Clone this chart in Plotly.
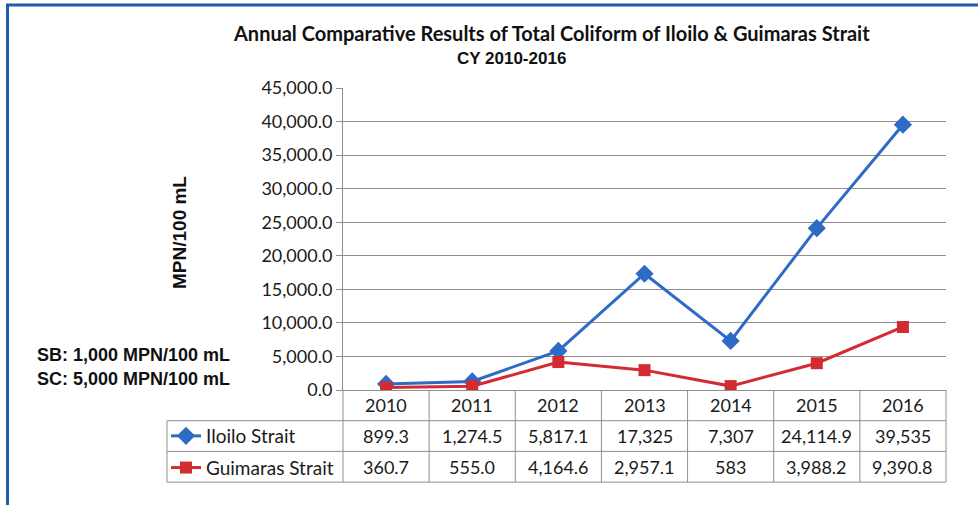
import plotly.graph_objects as go

# data
years = [2010, 2011, 2012, 2013, 2014, 2015, 2016]
iloilo = [899.3, 1274.5, 5817.1, 17325, 7307, 24114.9, 39535]
guimaras = [360.7, 555.0, 4164.6, 2957.1, 583, 3988.2, 9390.8]
iloilo_labels = ["899.3", "1,274.5", "5,817.1", "17,325", "7,307", "24,114.9", "39,535"]
guimaras_labels = ["360.7", "555.0", "4,164.6", "2,957.1", "583", "3,988.2", "9,390.8"]

W, H = 978, 505
BLUE = '#2E6BC6'
RED = '#D42A32'
GRID = '#8f8f8f'
FONT = 'Lato, Calibri, sans-serif'
ARIAL = 'Liberation Sans, Arial, sans-serif'


def px(x):
    return x / W


def py(y):
    return 1 - y / H


# pixel geometry of the plot / table
left, right, top, bottom = 343, 946, 88, 390
unit = (right - left) / len(years)
tab_left, row_h = 167, 30.7

fig = go.Figure()
fig.add_trace(go.Scatter(
    x=years, y=iloilo, name='Iloilo Strait', mode='lines+markers', legendgroup='a',
    line=dict(color=BLUE, width=3), marker=dict(symbol='diamond', size=14, color=BLUE)
))
fig.add_trace(go.Scatter(
    x=years, y=guimaras, name='Guimaras Strait', mode='lines+markers', legendgroup='b',
    line=dict(color=RED, width=3), marker=dict(symbol='square', size=12, color=RED)
))

x0 = years[0] - 0.5
x1 = years[-1] + 0.5
# table subplot shares the category scale, extended to the left for the label column
t_dom_l, t_dom_r = 164, 948
t_rng = [x0 - (left - t_dom_l) / unit, x1 + (t_dom_r - right) / unit]
t_dom_t, t_dom_b = 389, 485
y_rng = [(t_dom_b - bottom) / row_h, (t_dom_t - bottom) / row_h]
tab_x = x0 - (left - tab_left) / unit

shapes = []
line = dict(color=GRID, width=1)
for r in (1, 2, 3):
    shapes.append(dict(type='line', xref='x2', yref='y2', x0=tab_x, x1=x1, y0=r, y1=r, line=line))
for k in range(len(years) + 1):
    shapes.append(dict(type='line', xref='x2', yref='y2', x0=x0 + k, x1=x0 + k, y0=0, y1=3, line=line))
shapes.append(dict(type='line', xref='x2', yref='y2', x0=tab_x, x1=tab_x, y0=1, y1=3, line=line))
# blue frame
shapes.append(dict(type='line', xref='paper', yref='paper', x0=px(7.5), x1=px(7.5), y0=0, y1=py(4),
                   line=dict(color='#1F5CAF', width=3)))
shapes.append(dict(type='line', xref='paper', yref='paper', x0=px(6), x1=1, y0=py(5), y1=py(5),
                   line=dict(color='#1F5CAF', width=3)))

ann = []
cell_font = dict(family=FONT, size=18, color='#1a1a1a')
for i, yr in enumerate(years):
    for row, txt in ((0.5, str(yr)), (1.5, iloilo_labels[i]), (2.5, guimaras_labels[i])):
        ann.append(dict(x=yr, y=row, xref='x2', yref='y2', text=txt, showarrow=False,
                        xanchor='center', yanchor='middle', font=cell_font))


def label(x, y, text, font, **kw):
    d = dict(x=px(x), y=py(y), xref='paper', yref='paper', text=text, showarrow=False,
             xanchor='center', yanchor='middle', font=font)
    d.update(kw)
    ann.append(d)


label(551, 33, '<b>Annual Comparative Results of Total Coliform of Iloilo & Guimaras Strait</b>',
      dict(family=FONT, size=20, color='#111'))
label(511, 59, '<b>CY 2010-2016</b>', dict(family=ARIAL, size=17, color='#111'))
label(180, 233, '<b>MPN/100 mL</b>', dict(family=ARIAL, size=19, color='#111'), textangle=-90)
label(35, 355, '<b>SB: 1,000 MPN/100 mL</b>', dict(family=ARIAL, size=18, color='#111'), xanchor='left')
label(35, 379, '<b>SC: 5,000 MPN/100 mL</b>', dict(family=ARIAL, size=18, color='#111'), xanchor='left')

fig.update_layout(
    width=W, height=H, margin=dict(l=0, r=0, t=0, b=0, autoexpand=False),
    paper_bgcolor='white', plot_bgcolor='rgba(0,0,0,0)',
    showlegend=True,
    legend=dict(x=px(166), y=py(417), xanchor='left', yanchor='top', traceorder='grouped',
                tracegroupgap=4, bgcolor='rgba(0,0,0,0)', font=dict(family=FONT, size=19, color='#1a1a1a'),
                itemwidth=30),
    xaxis=dict(domain=[px(left), px(right)], range=[x0, x1], showticklabels=False, showgrid=False,
               showline=True, linecolor=GRID, zeroline=False, ticks=''),
    yaxis=dict(domain=[py(bottom), py(top)], range=[0, 45000], dtick=5000, tickformat=',.1f',
               showgrid=True, gridcolor=GRID, gridwidth=1, showline=True, linecolor=GRID,
               ticks='outside', ticklen=6, tickcolor=GRID, zeroline=False,
               tickfont=dict(family=FONT, size=18, color='#1a1a1a')),
    xaxis2=dict(domain=[px(t_dom_l), px(t_dom_r)], range=t_rng, anchor='y2', visible=False),
    yaxis2=dict(domain=[py(t_dom_b), py(t_dom_t)], range=y_rng, anchor='x2', visible=False),
    shapes=shapes, annotations=ann,
)

# the page's default body margin would push the 978x505 figure off the window
fig.write_html("out.html", config={'displayModeBar': False},
               post_script="document.body.style.margin='0';")
